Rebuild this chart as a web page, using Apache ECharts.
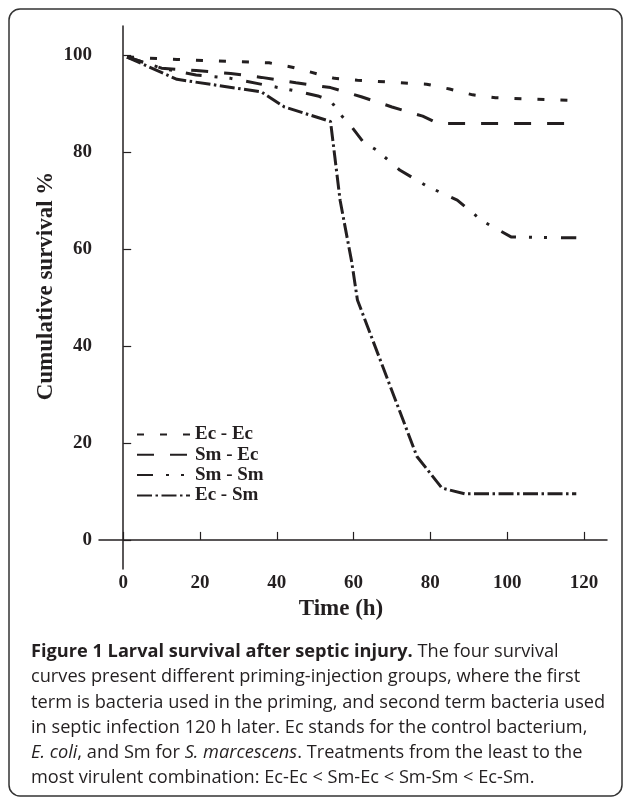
<!DOCTYPE html>
<html>
<head>
<meta charset="utf-8">
<script src="https://cdn.jsdelivr.net/npm/echarts@6/dist/echarts.min.js"></script>
<style>
html,body{margin:0;padding:0;background:#fff;}
#chart{width:627px;height:799px;}
</style>
</head>
<body>
<div id="chart"></div>
<script>
// ---- data ----
var seriesNames = ['Ec - Ec', 'Sm - Ec', 'Sm - Sm', 'Ec - Sm'];

var ecEcTime = [1, 14, 38, 44, 55, 61, 79, 85, 91, 97, 118];
var ecEcSurv = [99.6, 99.1, 98.4, 97.5, 95.2, 94.8, 94.0, 93.0, 91.8, 91.2, 90.6];

var smEcTime = [1, 10, 19, 28, 36, 45, 54, 62, 70, 78, 82, 118];
var smEcSurv = [99.6, 97.3, 96.8, 96.2, 95.4, 94.3, 93.3, 91.4, 89.3, 87.4, 85.9, 85.9];

var smSmTime = [1, 10, 19, 28, 45, 51, 54, 57, 59.5, 62.5, 66, 72, 79, 87, 93.5, 101, 118];
var smSmSurv = [99.6, 97.3, 95.9, 95.2, 92.6, 91.5, 90.6, 87.4, 85.2, 82.1, 80.4, 76.3, 73.0, 70.1, 65.8, 62.5, 62.3];

var ecSmTime = [1, 14, 36, 42, 54, 56.5, 59.5, 61, 76.5, 83, 89, 118];
var ecSmSurv = [99.6, 95.0, 92.4, 89.3, 86.3, 70.0, 57.4, 49.5, 17.2, 10.7, 9.5, 9.5];

var xTicks = [0, 20, 40, 60, 80, 100, 120];
var yTicks = [0, 20, 40, 60, 80, 100];

var captionLines = [
  '{b|Figure 1 Larval survival after septic injury.} The four survival',
  'curves present different priming-injection groups, where the first',
  'term is bacteria used in the priming, and second term bacteria used',
  'in septic infection 120 h later. Ec stands for the control bacterium,',
  '{i|E. coli}, and Sm for {i|S. marcescens}. Treatments from the least to the',
  'most virulent combination: Ec-Ec < Sm-Ec < Sm-Sm < Ec-Sm.'
];

// ---- build ----
function pairs(t, v) { return t.map(function (x, i) { return [x, v[i]]; }); }

var INK = '#231f20';
var SERIF = 'Liberation Serif';
var CAP = 18.2;
var dashes = [[7, 16], [17, 16], [16, 13, 3, 12, 3, 14], [15, 3.5, 2.5, 3.5]];
var datasets = [pairs(ecEcTime, ecEcSurv), pairs(smEcTime, smEcSurv), pairs(smSmTime, smSmSurv), pairs(ecSmTime, ecSmSurv)];

var series = seriesNames.map(function (n, i) {
  return {
    name: n, type: 'line', data: datasets[i], symbol: 'none', silent: true,
    lineStyle: { color: INK, width: 3, type: dashes[i] },
    itemStyle: { color: INK }
  };
});

var graphics = [
  { type: 'rect', shape: { x: 9, y: 9, width: 613, height: 787, r: 11 },
    style: { fill: 'none', stroke: '#333', lineWidth: 1.5 }, silent: true },
  { type: 'text', x: 46, y: 286, rotation: Math.PI / 2,
    style: { text: 'Cumulative survival %', fill: INK, font: 'bold 23px "Liberation Serif"',
      textAlign: 'center', textVerticalAlign: 'middle' } },
  { type: 'text', x: 341, y: 609,
    style: { text: 'Time (h)', fill: INK, font: 'bold 23px "Liberation Serif"',
      textAlign: 'center', textVerticalAlign: 'middle' } }
];
captionLines.forEach(function (line, i) {
  graphics.push({
    type: 'text', x: 31, y: 652 + 25.2 * i,
    style: {
      text: line, fill: INK, fontFamily: 'Open Sans', fontSize: CAP,
      textAlign: 'left', textVerticalAlign: 'middle',
      rich: {
        b: { fontFamily: 'Open Sans', fontWeight: 'bold', fontSize: CAP, fill: INK },
        i: { fontFamily: 'Open Sans', fontStyle: 'italic', fontSize: CAP, fill: INK }
      }
    }
  });
});

var chart = echarts.init(document.getElementById('chart'), null, { renderer: 'canvas' });
chart.setOption({
  animation: false,
  backgroundColor: '#fff',
  grid: { left: 99, right: 20, top: 26, bottom: 230, containLabel: false },
  legend: {
    data: seriesNames, orient: 'vertical', left: 131, top: 420,
    itemWidth: 53, itemHeight: 12, itemGap: 1.3,
    itemStyle: { opacity: 0 },
    textStyle: { fontFamily: SERIF, fontWeight: 'bold', fontSize: 19, color: INK, lineHeight: 19 },
    selectedMode: false
  },
  xAxis: {
    type: 'value', min: -6.3, max: 126,
    splitLine: { show: false },
    axisLine: { lineStyle: { color: INK, width: 1.5 } },
    axisTick: { inside: true, length: 8, customValues: xTicks, lineStyle: { color: INK, width: 1.2 } },
    axisLabel: { customValues: xTicks, margin: 5, fontFamily: SERIF, fontWeight: 'bold', fontSize: 19, color: INK }
  },
  yAxis: {
    type: 'value', min: -6, max: 106,
    splitLine: { show: false },
    axisLine: { show: true, lineStyle: { color: INK, width: 1.5 } },
    axisTick: { show: true, inside: true, length: 8, customValues: yTicks, lineStyle: { color: INK, width: 1.2 } },
    axisLabel: { customValues: yTicks, margin: 7, fontFamily: SERIF, fontWeight: 'bold', fontSize: 19, color: INK }
  },
  graphic: graphics,
  series: series
});
</script>
</body>
</html>
